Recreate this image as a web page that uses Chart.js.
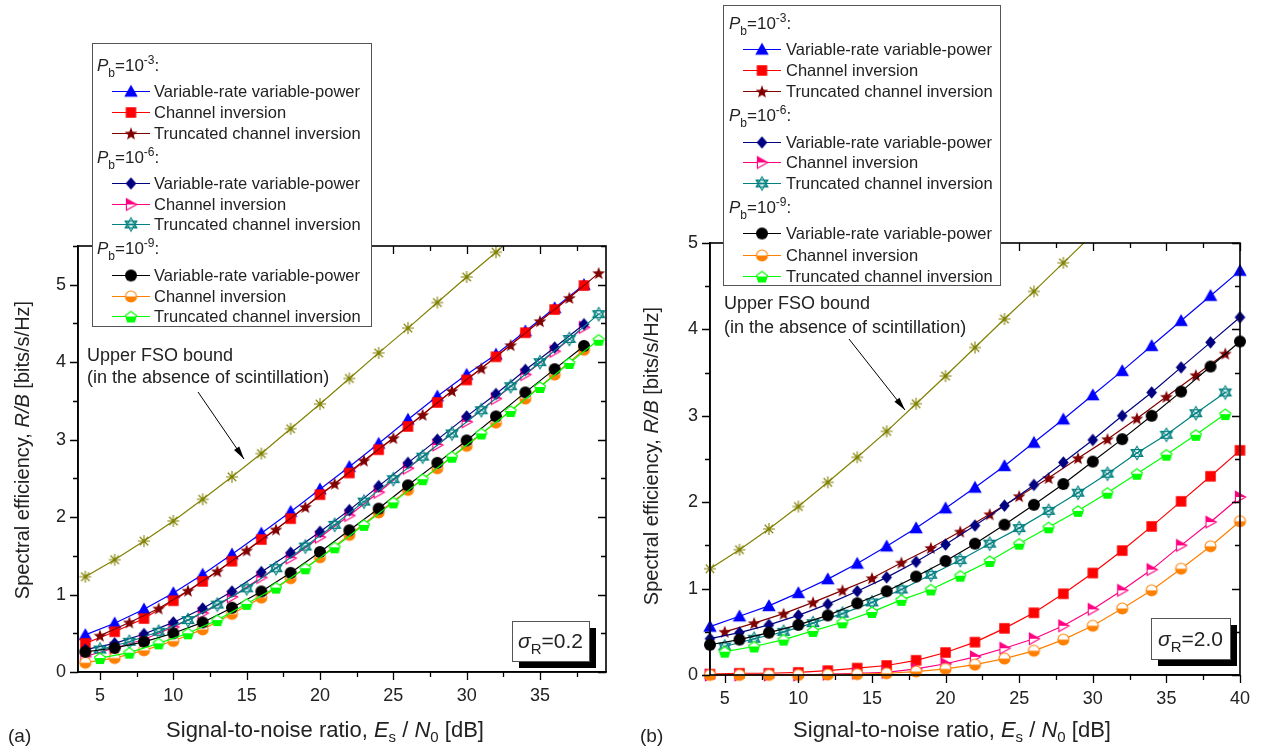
<!DOCTYPE html>
<html><head><meta charset="utf-8">
<script src="https://cdn.jsdelivr.net/npm/chart.js@4.4.1/dist/chart.umd.min.js"></script>
<style>
html,body{margin:0;padding:0;background:#fff;}
#wrap{position:relative;width:1263px;height:746px;overflow:hidden;background:#fff;}
canvas{position:absolute;top:0;}
</style></head><body>
<div id="wrap">
<canvas id="ca" width="632" height="746" style="left:0px"></canvas>
<canvas id="cb" width="631" height="746" style="left:632px"></canvas>
</div>
<script>
// ---------------- DATA ----------------
const SNR_EVEN = [4,6,8,10,12,14,16,18,20,22,24,26,28,30,32,34,36,38,40];
const SNR_ODD  = [5,7,9,11,13,15,17,19,21,23,25,27,29,31,33,35,37,39];

const X_TICKS_A = [5,7.5,10,12.5,15,17.5,20,22.5,25,27.5,30,32.5,35,37.5];
const X_LABELS_A = [5,10,15,20,25,30,35];
const X_TICKS_B = [5,7.5,10,12.5,15,17.5,20,22.5,25,27.5,30,32.5,35,37.5,40];
const X_LABELS_B = [5,10,15,20,25,30,35,40];
const Y_TICKS_A = [0,0.5,1,1.5,2,2.5,3,3.5,4,4.5,5,5.5];
const Y_TICKS_B = [0,0.5,1,1.5,2,2.5,3,3.5,4,4.5,5];
const Y_LABELS = [0,1,2,3,4,5];

// Upper FSO bound (same in both panels), x = SNR_EVEN
const BOUND = [1.23,1.45,1.69,1.95,2.23,2.52,2.82,3.14,3.46,3.79,4.12,4.44,4.77,5.10,5.42,5.75,6.08,6.41,6.74];

// Panel (a), sigma_R = 0.2
const A_VRVP3 = [0.48,0.63,0.81,1.02,1.26,1.52,1.79,2.07,2.36,2.65,2.95,3.26,3.56,3.84,4.10,4.40,4.70,5.00];
const A_CI3   = [0.37,0.52,0.69,0.92,1.17,1.43,1.71,1.98,2.29,2.57,2.87,3.17,3.48,3.77,4.07,4.38,4.68,4.99];
const A_TCI3  = [0.47,0.64,0.82,1.05,1.30,1.57,1.84,2.13,2.43,2.73,3.02,3.32,3.63,3.92,4.22,4.53,4.83,5.15];
const A_VRVP6 = [0.29,0.37,0.49,0.64,0.82,1.04,1.29,1.54,1.81,2.09,2.40,2.70,3.00,3.30,3.59,3.90,4.19,4.49];
const A_CI6   = [0.20,0.31,0.42,0.58,0.76,0.97,1.22,1.47,1.74,2.02,2.32,2.63,2.93,3.23,3.53,3.84,4.14,4.45];
const A_TCI6  = [0.29,0.39,0.52,0.67,0.87,1.08,1.34,1.62,1.90,2.20,2.49,2.78,3.08,3.38,3.69,4.00,4.30,4.62];
const A_VRVP9 = [0.26,0.31,0.39,0.50,0.64,0.83,1.04,1.28,1.55,1.83,2.11,2.41,2.70,2.99,3.30,3.61,3.91,4.21];
const A_CI9   = [0.12,0.18,0.28,0.40,0.55,0.75,0.96,1.21,1.48,1.77,2.06,2.35,2.63,2.92,3.22,3.53,3.84,4.16];
const A_TCI9  = [0.18,0.25,0.37,0.50,0.67,0.88,1.09,1.34,1.61,1.90,2.19,2.49,2.78,3.08,3.37,3.68,3.99,4.29];

// Panel (b), sigma_R = 2.0
const B_VRVP3 = [0.56,0.68,0.80,0.95,1.11,1.29,1.49,1.70,1.93,2.17,2.42,2.69,2.96,3.24,3.52,3.81,4.10,4.39,4.68];
const B_CI3   = [0.01,0.02,0.02,0.03,0.05,0.08,0.11,0.17,0.26,0.38,0.54,0.72,0.94,1.18,1.44,1.72,2.01,2.30,2.60];
const B_TCI3  = [0.50,0.60,0.71,0.84,0.98,1.12,1.30,1.47,1.66,1.86,2.07,2.28,2.51,2.73,2.97,3.22,3.47,3.72];
const B_VRVP6 = [0.42,0.49,0.58,0.69,0.82,0.97,1.13,1.31,1.51,1.73,1.96,2.20,2.46,2.72,3.00,3.27,3.56,3.85,4.14];
const B_CI6   = [0.00,0.00,0.00,0.00,0.01,0.02,0.03,0.07,0.13,0.21,0.31,0.42,0.57,0.76,0.98,1.22,1.50,1.77,2.06];
const B_TCI6  = [0.33,0.42,0.50,0.60,0.71,0.84,0.99,1.16,1.33,1.52,1.70,1.90,2.11,2.33,2.57,2.78,3.03,3.27];
const B_VRVP9 = [0.35,0.41,0.49,0.58,0.69,0.83,0.97,1.14,1.32,1.52,1.74,1.97,2.21,2.47,2.73,3.00,3.28,3.57,3.86];
const B_CI9   = [0.00,0.00,0.00,0.00,0.005,0.01,0.02,0.04,0.07,0.12,0.19,0.28,0.41,0.57,0.77,0.98,1.23,1.49,1.78];
const B_TCI9  = [0.27,0.33,0.41,0.51,0.61,0.73,0.87,0.99,1.15,1.32,1.52,1.71,1.90,2.11,2.33,2.55,2.78,3.02];

const LEGEND_GROUPS = ['-3','-6','-9'];
const LEGEND_NAMES = ['Variable-rate variable-power','Channel inversion','Truncated channel inversion'];
const SIGMA_A = '0.2', SIGMA_B = '2.0';
const BOUND_TEXT = ['Upper FSO bound','(in the absence of scintillation)'];

// ---------------- STYLE ----------------
const FONT = "'Liberation Sans', Arial, Helvetica, sans-serif";
const C = {olive:'#808000', blue:'#0000ff', red:'#ff0000', dred:'#800000', navy:'#000080',
  pink:'#ff0080', teal:'#008080', black:'#000000', orange:'#ff8000', green:'#00ff00'};

function mk(type, color, s) {
  const pad = 2, W = Math.ceil(s + 2*pad);
  const c = document.createElement('canvas'); c.width = W; c.height = W;
  const g = c.getContext('2d'); const cx = W/2, cy = W/2, r = s/2;
  g.strokeStyle = color; g.fillStyle = color; g.lineWidth = 1.1;
  const poly = pts => { g.beginPath(); pts.forEach((p,i)=> i ? g.lineTo(p[0],p[1]) : g.moveTo(p[0],p[1])); g.closePath(); };
  const halfFill = (pathFn, lower) => {
    pathFn(); g.fillStyle = '#fff'; g.fill();
    g.save(); g.beginPath(); if (lower) g.rect(0, cy, W, W); else g.rect(0, 0, W, cy); g.clip();
    pathFn(); g.fillStyle = color; g.fill(); g.restore();
    pathFn(); g.stroke();
  };
  switch (type) {
    case 'triUp': poly([[cx,cy-r],[cx+r,cy+r*0.78],[cx-r,cy+r*0.78]]); g.fill(); break;
    case 'square': g.fillRect(cx-r, cy-r, s, s); break;
    case 'star': { const pts=[]; for (let k=0;k<10;k++){ const a=-Math.PI/2+k*Math.PI/5; const rr = k%2 ? r*0.42 : r; pts.push([cx+rr*Math.cos(a), cy+0.6+rr*Math.sin(a)]); } poly(pts); g.fill(); break; }
    case 'diamond': poly([[cx,cy-r],[cx+r*0.85,cy],[cx,cy+r],[cx-r*0.85,cy]]); g.fill(); break;
    case 'triRight': halfFill(()=>poly([[cx-r*0.8,cy-r],[cx+r,cy],[cx-r*0.8,cy+r]]), false); break;
    case 'hexX': {
      poly([[cx,cy-r],[cx+r*0.87,cy+r*0.5],[cx-r*0.87,cy+r*0.5]]); g.stroke();
      poly([[cx,cy+r],[cx+r*0.87,cy-r*0.5],[cx-r*0.87,cy-r*0.5]]); g.stroke();
      g.beginPath(); g.moveTo(cx-r*0.87,cy-r*0.5); g.lineTo(cx+r*0.87,cy+r*0.5);
      g.moveTo(cx+r*0.87,cy-r*0.5); g.lineTo(cx-r*0.87,cy+r*0.5); g.stroke(); break; }
    case 'circle': g.beginPath(); g.arc(cx,cy,r,0,2*Math.PI); g.fill(); break;
    case 'circleHalf': halfFill(()=>{ g.beginPath(); g.arc(cx,cy,r,0,2*Math.PI); }, true); break;
    case 'pentHalf': { const pts=[]; for (let k=0;k<5;k++){ const a=-Math.PI/2+k*2*Math.PI/5; pts.push([cx+r*Math.cos(a), cy+0.8+r*Math.sin(a)]); } halfFill(()=>poly(pts), true); break; }
    case 'asterisk': g.beginPath(); for (let k=0;k<4;k++){ const a=k*Math.PI/4; g.moveTo(cx-r*Math.cos(a), cy-r*Math.sin(a)); g.lineTo(cx+r*Math.cos(a), cy+r*Math.sin(a)); } g.stroke(); break;
  }
  return c;
}
const M = {
  bound: mk('asterisk', C.olive, 12),
  vrvp3: mk('triUp', C.blue, 13.5), ci3: mk('square', C.red, 10.5), tci3: mk('star', C.dred, 13.5),
  vrvp6: mk('diamond', C.navy, 12.5), ci6: mk('triRight', C.pink, 11.5), tci6: mk('hexX', C.teal, 13.5),
  vrvp9: mk('circle', C.black, 12), ci9: mk('circleHalf', C.orange, 11), tci9: mk('pentHalf', C.green, 11.5)
};
const LEGEND_MARKS = [[['vrvp3',C.blue],['ci3',C.red],['tci3',C.dred]],
                      [['vrvp6',C.navy],['ci6',C.pink],['tci6',C.teal]],
                      [['vrvp9',C.black],['ci9',C.orange],['tci9',C.green]]];

function series(xs, ys) { return ys.map((y,i)=>({x: xs[i], y})); }
function ds(data, color, marker, order) {
  return { data, borderColor: color, backgroundColor: color, borderWidth: 1.2, pointStyle: marker,
    pointRadius: 6, pointHoverRadius: 6, tension: 0, fill: false, order,
    clip: {left: 8, right: 8, top: 0, bottom: 8} };
}

// rich text: parts = [text, font, dy]
function rich(ctx, parts, x, y, align) {
  let w = 0; parts.forEach(p => { ctx.font = p[1]; w += ctx.measureText(p[0]).width; });
  let cx = align === 'center' ? x - w/2 : x;
  ctx.textAlign = 'left'; ctx.textBaseline = 'alphabetic';
  parts.forEach(p => { ctx.font = p[1]; ctx.fillText(p[0], cx, y + (p[2]||0)); cx += ctx.measureText(p[0]).width; });
}
const f = (sz, st) => (st ? st + ' ' : '') + sz + 'px ' + FONT;

const PANELS = {
  ca: { off: 0, xmin: 3.5, xmax: 39.5, ymax: 5.5, xTicks: X_TICKS_A, xLabels: X_LABELS_A, yTicks: Y_TICKS_A,
    pad: {top: 246, right: 26}, xH: 74, yW: 78,
    sets: [
      ds(series(SNR_EVEN, BOUND), C.olive, M.bound, 10),
      ds(series(SNR_EVEN, A_VRVP3), C.blue, M.vrvp3, 9),
      ds(series(SNR_EVEN, A_CI3), C.red, M.ci3, 8),
      ds(series(SNR_ODD, A_TCI3), C.dred, M.tci3, 7),
      ds(series(SNR_EVEN, A_CI6), C.pink, M.ci6, 6),
      ds(series(SNR_EVEN, A_VRVP6), C.navy, M.vrvp6, 5),
      ds(series(SNR_ODD, A_TCI6), C.teal, M.tci6, 4),
      ds(series(SNR_EVEN, A_CI9), C.orange, M.ci9, 3),
      ds(series(SNR_EVEN, A_VRVP9), C.black, M.vrvp9, 2),
      ds(series(SNR_ODD, A_TCI9), C.green, M.tci9, 1)
    ],
    tag: '(a)', tagPos: [8, 742], yTitle: [22, 450], xTitle: [325, 737],
    boundText: [87, 361, 383], arrow: [198, 392, 244, 459],
    sigma: [512, 621, 77, 40, SIGMA_A],
    legend: {x: 92, y: 43, w: 279, h: 283, headers: [65,157,248], rows: [[91,112,133],[183,204,224],[275,296,316]],
      hx: 97, lx: [112, 150], mx: 131, tx: 154}
  },
  cb: { off: 632, xmin: 4, xmax: 40, ymax: 5, xTicks: X_TICKS_B, xLabels: X_LABELS_B, yTicks: Y_TICKS_B,
    pad: {top: 243, right: 17}, xH: 71, yW: 78,
    sets: [
      ds(series(SNR_EVEN, BOUND), C.olive, M.bound, 10),
      ds(series(SNR_EVEN, B_VRVP3), C.blue, M.vrvp3, 9),
      ds(series(SNR_EVEN, B_CI3), C.red, M.ci3, 8),
      ds(series(SNR_ODD, B_TCI3), C.dred, M.tci3, 7),
      ds(series(SNR_EVEN, B_CI6), C.pink, M.ci6, 6),
      ds(series(SNR_EVEN, B_VRVP6), C.navy, M.vrvp6, 5),
      ds(series(SNR_ODD, B_TCI6), C.teal, M.tci6, 4),
      ds(series(SNR_EVEN, B_CI9), C.orange, M.ci9, 3),
      ds(series(SNR_EVEN, B_VRVP9), C.black, M.vrvp9, 2),
      ds(series(SNR_ODD, B_TCI9), C.green, M.tci9, 1)
    ],
    tag: '(b)', tagPos: [640, 742], yTitle: [651, 456], xTitle: [952, 737],
    boundText: [724, 309, 333], arrow: [849, 339, 905, 410],
    sigma: [1151, 618, 79, 41, SIGMA_B],
    legend: {x: 723, y: 5, w: 277, h: 280, headers: [23,115,207], rows: [[49,70,91],[142,162,183],[233,255,276]],
      hx: 729, lx: [743, 781], mx: 762, tx: 786}
  }
};

const decor = {
  id: 'decor',
  afterDraw(chart) {
    const P = PANELS[chart.canvas.id]; const o = P.off;
    const ctx = chart.ctx, a = chart.chartArea, xs = chart.scales.x, ys = chart.scales.y;
    ctx.save();
    // frame
    ctx.strokeStyle = '#000'; ctx.lineWidth = 1.6;
    ctx.strokeRect(a.left, a.top, a.right - a.left, a.bottom - a.top);
    // ticks
    ctx.lineWidth = 1.3;
    ctx.beginPath();
    xs.ticks.forEach(t => {
      const px = Math.round(xs.getPixelForValue(t.value)) + 0.5; const L = (t.value % 5 === 0) ? 8 : 5;
      ctx.moveTo(px, a.bottom); ctx.lineTo(px, a.bottom + L);
      ctx.moveTo(px, a.top); ctx.lineTo(px, a.top + L);
    });
    ys.ticks.forEach(t => {
      const py = Math.round(ys.getPixelForValue(t.value)) + 0.5; const L = Number.isInteger(t.value) ? 8 : 5;
      ctx.moveTo(a.left, py); ctx.lineTo(a.left - L, py);
      ctx.moveTo(a.right, py); ctx.lineTo(a.right - L, py);
    });
    ctx.stroke();
    ctx.fillStyle = '#222';
    // axis titles
    const XS = 22;
    rich(ctx, [['Signal-to-noise ratio, ', f(XS)], ['E', f(XS,'italic')], ['s', f(15), 5], [' / ', f(XS)],
      ['N', f(XS,'italic')], ['0', f(15), 5], [' [dB]', f(XS)]], P.xTitle[0] - o, P.xTitle[1], 'center');
    ctx.save(); ctx.translate(P.yTitle[0] - o, P.yTitle[1]); ctx.rotate(-Math.PI/2);
    rich(ctx, [['Spectral efficiency, ', f(20)], ['R/B', f(20,'italic')], [' [bits/s/Hz]', f(20)]], 0, 7, 'center');
    ctx.restore();
    // tag
    ctx.font = f(19); ctx.textAlign = 'left'; ctx.fillText(P.tag, P.tagPos[0] - o, P.tagPos[1]);
    // bound annotation
    ctx.font = f(18);
    ctx.fillText(BOUND_TEXT[0], P.boundText[0] - o, P.boundText[1]);
    ctx.fillText(BOUND_TEXT[1], P.boundText[0] - o, P.boundText[2]);
    // arrow
    const [x1, y1, x2, y2] = P.arrow;
    ctx.strokeStyle = '#000'; ctx.lineWidth = 1;
    ctx.beginPath(); ctx.moveTo(x1 - o, y1); ctx.lineTo(x2 - o, y2); ctx.stroke();
    const ang = Math.atan2(y2 - y1, x2 - x1), AL = 13, AW = 3.2;
    ctx.fillStyle = '#000'; ctx.beginPath();
    ctx.moveTo(x2 - o, y2);
    ctx.lineTo(x2 - o - AL*Math.cos(ang) + AW*Math.sin(ang), y2 - AL*Math.sin(ang) - AW*Math.cos(ang));
    ctx.lineTo(x2 - o - AL*Math.cos(ang) - AW*Math.sin(ang), y2 - AL*Math.sin(ang) + AW*Math.cos(ang));
    ctx.closePath(); ctx.fill();
    // sigma box
    const [bx, by, bw, bh, sv] = P.sigma;
    ctx.fillStyle = '#000'; ctx.fillRect(bx - o + 7, by + 7, bw, bh);
    ctx.fillStyle = '#fff'; ctx.fillRect(bx - o, by, bw, bh);
    ctx.strokeStyle = '#555'; ctx.lineWidth = 1; ctx.strokeRect(bx - o + 0.5, by + 0.5, bw, bh);
    ctx.fillStyle = '#222';
    rich(ctx, [['\u03c3', f(21,'italic')], ['R', f(15), 6], ['=' + sv, f(21)]], bx - o + bw/2, by + bh/2 + 7, 'center');
    // legend
    const L = P.legend;
    ctx.fillStyle = '#fff'; ctx.fillRect(L.x - o, L.y, L.w, L.h);
    ctx.strokeStyle = '#555'; ctx.lineWidth = 1; ctx.strokeRect(L.x - o + 0.5, L.y + 0.5, L.w, L.h);
    for (let gi = 0; gi < 3; gi++) {
      ctx.fillStyle = '#222';
      rich(ctx, [['P', f(17,'italic')], ['b', f(12), 6], ['=10', f(17)], [LEGEND_GROUPS[gi], f(12), -7], [':', f(17)]],
        L.hx - o, L.headers[gi] + 6, 'left');
      for (let k = 0; k < 3; k++) {
        const yy = L.rows[gi][k]; const [mkey, col] = LEGEND_MARKS[gi][k];
        ctx.strokeStyle = col; ctx.lineWidth = 1.2;
        ctx.beginPath(); ctx.moveTo(L.lx[0] - o, yy + 0.5); ctx.lineTo(L.lx[1] - o, yy + 0.5); ctx.stroke();
        const im = M[mkey]; ctx.drawImage(im, L.mx - o - im.width/2, yy + 0.5 - im.height/2);
        ctx.fillStyle = '#222'; ctx.font = f(16.5); ctx.textAlign = 'left';
        ctx.fillText(LEGEND_NAMES[k], L.tx - o, yy + 6);
      }
    }
    ctx.restore();
  }
};

function build(id) {
  const P = PANELS[id];
  return new Chart(document.getElementById(id), {
    type: 'line',
    data: { datasets: P.sets },
    options: {
      responsive: false, animation: false, events: [],
      layout: { padding: { left: 0, top: P.pad.top, right: P.pad.right, bottom: 0 } },
      plugins: { legend: { display: false }, tooltip: { enabled: false } },
      scales: {
        x: { type: 'linear', min: P.xmin, max: P.xmax,
          grid: { display: false, drawTicks: false }, border: { display: true, color: '#000', width: 1.6 },
          afterBuildTicks: s => { s.ticks = P.xTicks.map(v => ({value: v})); },
          afterFit: s => { s.height = P.xH; },
          ticks: { autoSkip: false, maxRotation: 0, padding: 13, color: '#222', font: { family: FONT, size: 18 },
            callback: v => P.xLabels.includes(v) ? String(v) : '' } },
        y: { type: 'linear', min: 0, max: P.ymax,
          grid: { display: false, drawTicks: false }, border: { display: true, color: '#000', width: 1.6 },
          afterBuildTicks: s => { s.ticks = P.yTicks.map(v => ({value: v})); },
          afterFit: s => { s.width = P.yW; },
          ticks: { autoSkip: false, padding: 12, color: '#222', font: { family: FONT, size: 18 },
            callback: v => Y_LABELS.includes(v) ? String(v) : '' } }
      }
    },
    plugins: [decor]
  });
}
build('ca'); build('cb');
</script>
</body></html>
